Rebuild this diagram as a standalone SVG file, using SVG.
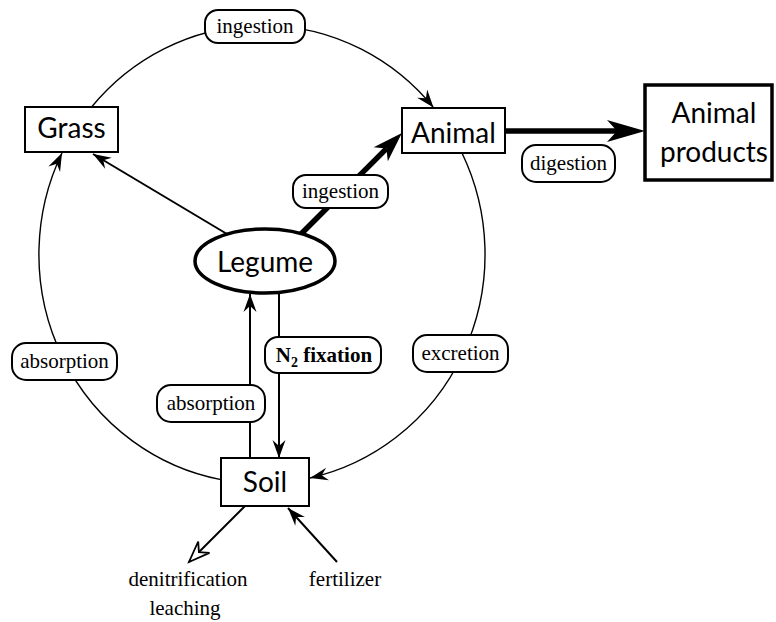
<svg xmlns="http://www.w3.org/2000/svg" width="776" height="622" viewBox="0 0 776 622">
<style>
.node{fill:#fff;stroke:#000;stroke-width:2}
.bold{stroke-width:3.5}
.nt{font-family:Lato,"Open Sans","Liberation Sans",sans-serif;font-size:28px;fill:#000;text-anchor:middle}
.lb rect{fill:#fff;stroke:#000;stroke-width:2}
.lt{font-family:"Liberation Serif","Times New Roman",serif;font-size:21px;fill:#000;text-anchor:middle}
.arc{fill:none;stroke:#000;stroke-width:1.4}
.ln{fill:none;stroke:#000;stroke-width:2}
.thk{fill:none;stroke:#000;stroke-width:5.5}
</style>
<defs>
<marker id="ah" markerUnits="userSpaceOnUse" orient="auto" viewBox="-30 -15 40 30" refX="0" refY="0" markerWidth="40" markerHeight="30" overflow="visible">
<path d="M0,0 L-18,-6.5 L-12,0 L-18,6.5 Z" fill="#000"/>
</marker>
<marker id="ahOpen" markerUnits="userSpaceOnUse" orient="auto" viewBox="-30 -15 40 30" refX="0" refY="0" markerWidth="40" markerHeight="30" overflow="visible">
<path d="M0,0 L-21,-8 L-14,0 L-21,8 Z" fill="#fff" stroke="#000" stroke-width="1.8" stroke-linejoin="miter"/>
</marker>
<marker id="ahThick1" markerUnits="userSpaceOnUse" orient="auto" viewBox="-40 -20 50 40" refX="-22" refY="0" markerWidth="50" markerHeight="40" overflow="visible">
<path d="M0,0 L-30,-10 L-22,0 L-30,10 Z" fill="#000"/>
</marker>
<marker id="ahThick2" markerUnits="userSpaceOnUse" orient="auto" viewBox="-50 -20 60 40" refX="-28" refY="0" markerWidth="60" markerHeight="40" overflow="visible">
<path d="M0,0 L-38,-11 L-28,0 L-38,11 Z" fill="#000"/>
</marker>
</defs>
<rect x="0" y="0" width="776" height="622" fill="#fff"/>

<g id="connectors">
<path class="arc" d="M91.6,107 A223,229 0 0 1 433.5,107.6" marker-end="url(#ah)"/>
<path class="arc" d="M462,153 A223,229 0 0 1 310,478" marker-end="url(#ah)"/>
<path class="arc" d="M221,479.6 A223,229 0 0 1 62,153" marker-end="url(#ah)"/>
<path class="ln" d="M227,234 L93,154" marker-end="url(#ah)"/>
<path class="thk" d="M301,234 L386.4,148.6" marker-end="url(#ahThick1)"/>
<path class="thk" d="M505,131 L617,131" marker-end="url(#ahThick2)"/>
<path class="ln" d="M250,458 L250,294" marker-end="url(#ah)"/>
<path class="ln" d="M279,294 L279,458" marker-end="url(#ah)"/>
<path class="ln" d="M245,506 L189,562" marker-end="url(#ahOpen)"/>
<path class="ln" d="M337,562 L288,508" marker-end="url(#ah)"/>
</g>

<g id="labels" class="lb">
<g id="lbl-ingestion-top"><rect x="205" y="10" width="100" height="33" rx="13"/><text class="lt" x="255" y="33">ingestion</text></g>
<g id="lbl-ingestion-legume"><rect x="293" y="175" width="95" height="33" rx="13"/><text class="lt" x="340.5" y="198">ingestion</text></g>
<g id="lbl-digestion"><rect x="522" y="145" width="93" height="37" rx="14"/><text class="lt" x="568.5" y="170">digestion</text></g>
<g id="lbl-n2"><rect x="265" y="337" width="116" height="36" rx="13"/><text class="lt" x="324" y="362" font-weight="bold">N<tspan font-size="14" dy="5">2</tspan><tspan dy="-5"> fixation</tspan></text></g>
<g id="lbl-excretion"><rect x="413" y="335" width="95" height="37" rx="14"/><text class="lt" x="460.5" y="360">excretion</text></g>
<g id="lbl-absorption-left"><rect x="12" y="343" width="105" height="37" rx="14"/><text class="lt" x="64.5" y="368">absorption</text></g>
<g id="lbl-absorption-mid"><rect x="157" y="385" width="108" height="37" rx="14"/><text class="lt" x="211" y="410">absorption</text></g>
</g>

<g id="grass"><rect class="node" x="25" y="107" width="93" height="45"/><text class="nt" x="71.5" y="138">Grass</text></g>
<g id="animal"><rect class="node" x="402" y="108" width="103" height="45"/><text class="nt" x="453.5" y="143">Animal</text></g>
<g id="animal-products"><rect class="node bold" x="645" y="85" width="127" height="95"/><text class="nt" x="714" y="123">Animal</text><text class="nt" x="714" y="162">products</text></g>
<g id="legume"><ellipse class="node bold" cx="265" cy="261" rx="70" ry="32"/><text class="nt" x="265" y="272" font-size="29">Legume</text></g>
<g id="soil"><rect class="node" x="221" y="458" width="88" height="48"/><text class="nt" x="265" y="492">Soil</text></g>

<g id="outside-labels">
<text class="lt" x="188" y="586">denitrification</text>
<text class="lt" x="185" y="615">leaching</text>
<text class="lt" x="345" y="586">fertilizer</text>
</g>
</svg>
